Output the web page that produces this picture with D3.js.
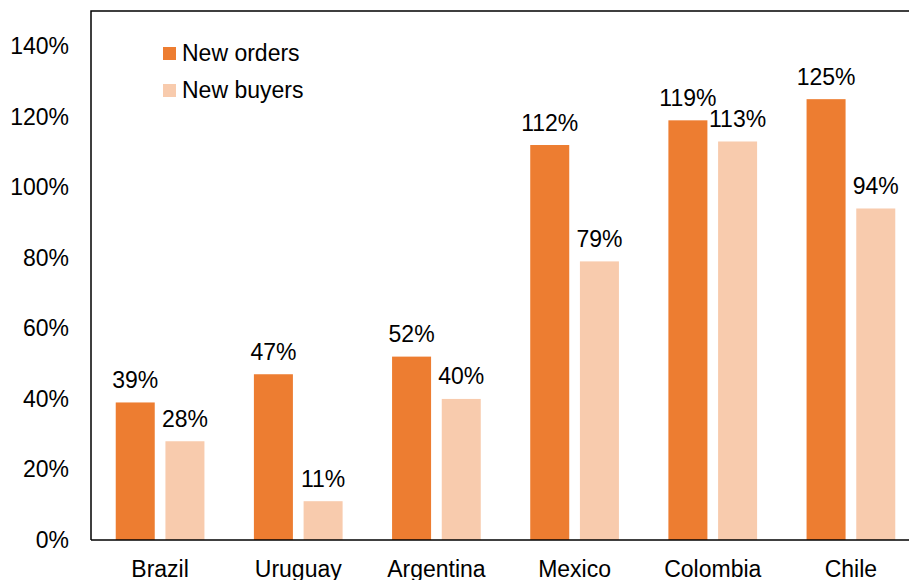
<!DOCTYPE html>
<html>
<head>
<meta charset="utf-8">
<script src="https://cdn.jsdelivr.net/npm/d3@7"></script>
<style>
  html, body { margin: 0; padding: 0; background: #fff; }
  svg { display: block; }
  text { font-family: "Liberation Sans", Arial, sans-serif; fill: #000; }
</style>
</head>
<body>
<script>
const categories = ["Brazil", "Uruguay", "Argentina", "Mexico", "Colombia", "Chile"];
const seriesNames = ["New orders", "New buyers"];
const newOrders = [39, 47, 52, 112, 119, 125];
const newBuyers = [28, 11, 40, 79, 113, 94];
const yTicks = [0, 20, 40, 60, 80, 100, 120, 140];
const colors = ["#ED7D31", "#F8CBAD"];

const W = 909, H = 580;
const mLeft = 91, mTop = 11, mBottom = 540, mRight = 920;
const fs = "23px";

const svg = d3.select("body").append("svg").attr("width", W).attr("height", H);

const y = d3.scaleLinear().domain([0, 150]).range([mBottom, mTop]);
const x0 = d3.scaleBand().domain(categories).range([mLeft, mRight]).padding(0);
const groupW = 88.7;
const x1 = d3.scaleBand().domain(seriesNames).range([0, groupW]).paddingInner(0.215).paddingOuter(0);

const data = categories.map((c, i) => ({ cat: c, vals: [newOrders[i], newBuyers[i]] }));

// bars
const g = svg.selectAll("g.grp").data(data).enter().append("g")
  .attr("transform", d => `translate(${x0(d.cat) + x0.bandwidth() / 2 - groupW / 2},0)`);

g.selectAll("rect").data(d => d.vals.map((v, k) => ({ v, k }))).enter().append("rect")
  .attr("x", d => x1(seriesNames[d.k]))
  .attr("y", d => y(d.v))
  .attr("width", x1.bandwidth())
  .attr("height", d => y(0) - y(d.v))
  .attr("fill", d => colors[d.k]);

g.selectAll("text.val").data(d => d.vals.map((v, k) => ({ v, k }))).enter().append("text")
  .attr("class", "val")
  .attr("x", d => x1(seriesNames[d.k]) + x1.bandwidth() / 2)
  .attr("y", d => y(d.v) - 14.5)
  .attr("text-anchor", "middle")
  .style("font-size", fs)
  .text(d => d.v + "%");

// frame
svg.append("path")
  .attr("d", `M${mLeft},${mBottom}V${mTop}H${mRight}`)
  .attr("fill", "none").attr("stroke", "#000").attr("stroke-width", 1.5);
svg.append("line")
  .attr("x1", mLeft).attr("x2", mRight).attr("y1", mBottom).attr("y2", mBottom)
  .attr("stroke", "#000").attr("stroke-width", 1.5);

// y axis labels
const yAxis = d3.axisLeft(y).tickValues(yTicks).tickSize(0).tickPadding(22).tickFormat(d => d + "%");
const ya = svg.append("g").attr("transform", `translate(${mLeft},0)`).call(yAxis);
ya.select(".domain").remove();
ya.selectAll("text").style("font-size", fs).style("font-family", '"Liberation Sans", Arial, sans-serif').attr("fill", "#000");

// x axis labels
const xAxis = d3.axisBottom(x0).tickSize(0).tickPadding(21);
const xa = svg.append("g").attr("transform", `translate(0,${mBottom})`).call(xAxis);
xa.select(".domain").remove();
xa.selectAll("text").style("font-size", fs).style("font-family", '"Liberation Sans", Arial, sans-serif').attr("fill", "#000");

// legend
const legend = svg.append("g");
seriesNames.forEach((n, i) => {
  const ly = 53 + i * 37;
  legend.append("rect").attr("x", 163).attr("y", ly - 6).attr("width", 13).attr("height", 13).attr("fill", colors[i]);
  legend.append("text").attr("x", 182).attr("y", ly).attr("dy", "0.35em").style("font-size", fs).text(n);
});
</script>
</body>
</html>
